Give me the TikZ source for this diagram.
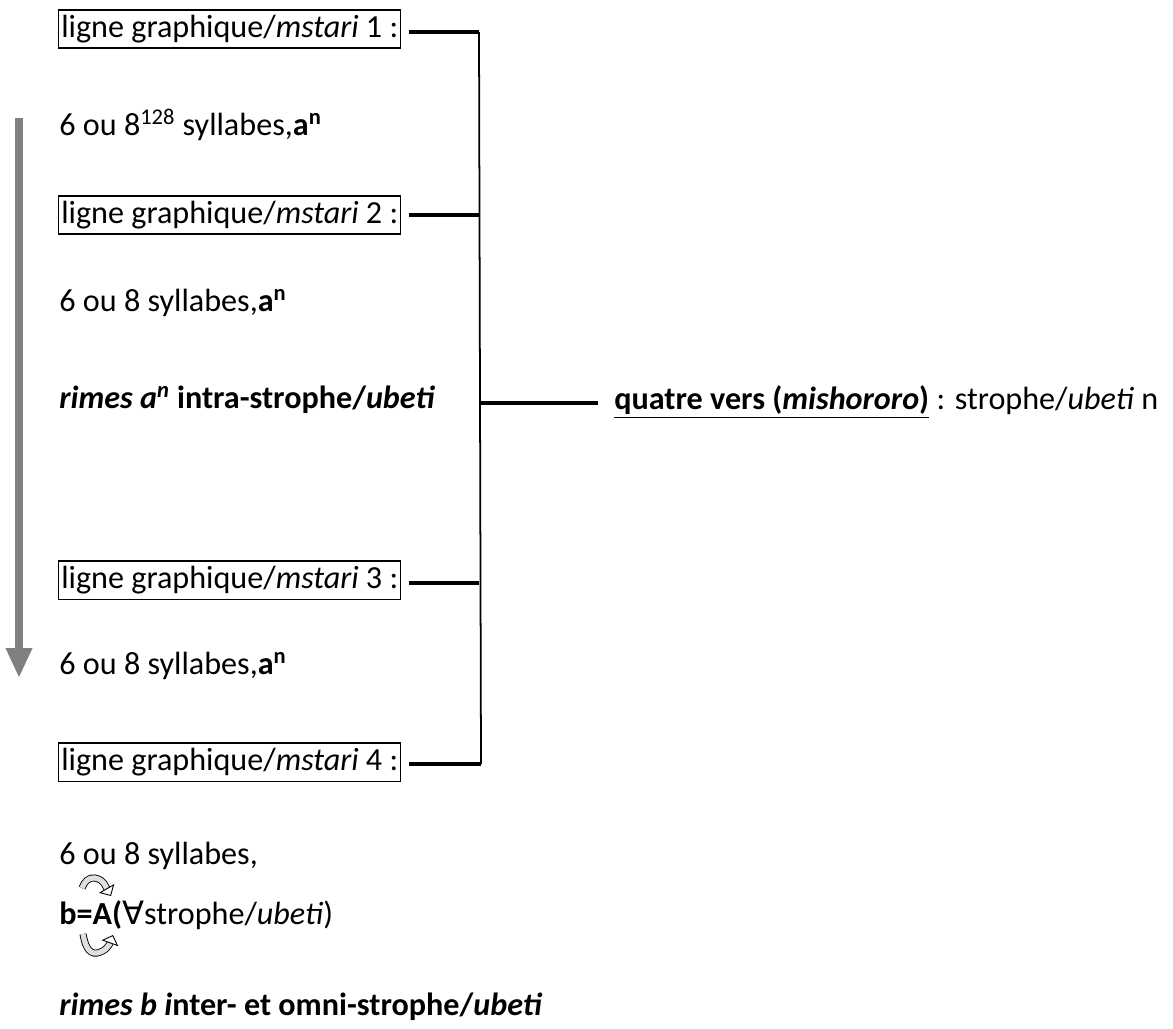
\documentclass[tikz,border=0pt]{standalone}
\usepackage{fontspec}
\setmainfont{Carlito}
\newfontfamily\symfont{DejaVu Sans}
\usetikzlibrary{arrows.meta,calc}

\tikzset{
 ligne/.style={draw, line width=0.8pt, inner xsep=1.5pt, inner ysep=3pt, anchor=west},
 txt/.style={anchor=west, inner sep=0pt},
 trait/.style={line width=2pt},
 axe/.style={line width=1pt},
 rond/.style={line width=0.5pt, double=gray!25, double distance=3pt, -{Triangle[open, width=10pt, length=5pt]}},
}

\begin{document}
\begin{tikzpicture}[x=0.02cm,y=-0.02cm,font=\fontsize{18.3}{22}\selectfont]
\useasboundingbox (0,0) rectangle (1173,1028);

\node[ligne] (L1) at (58,29) {ligne graphique/\textit{mstari} 1 :};
\node[ligne] (L2) at (58,215) {ligne graphique/\textit{mstari} 2 :};
\node[ligne] (L3) at (58,580) {ligne graphique/\textit{mstari} 3 :};
\node[ligne] (L4) at (58,762) {ligne graphique/\textit{mstari} 4 :};

\node[txt] (S1) at (59,125) {6 ou 8\textsuperscript{128} syllabes,\textbf{a\textsuperscript{n}}};
\node[txt] (S2) at (59,303) {6 ou 8 syllabes,\textbf{a\textsuperscript{n}}};
\node[txt] (R1) at (59,400) {\textbf{\textit{rimes a\textsuperscript{n}} intra-strophe/\textit{ubeti}}};
\node[txt] (S3) at (59,666) {6 ou 8 syllabes,\textbf{a\textsuperscript{n}}};
\node[txt] (S4) at (59,856) {6 ou 8 syllabes,};
\node[txt] (B) at (59,915) {\textbf{b=A(}{\symfont ∀}strophe/\textit{ubeti})};
\node[txt] (R2) at (59,1007) {\textbf{\textit{rimes b i}nter- et omni-strophe/\textit{ubeti}}};

\node[txt] (Q) at (614,402) {\underline{\textbf{quatre vers (\textit{mishororo})}} : strophe/\textit{ubeti} n};

% accolade
\coordinate (V1) at (479,32);
\coordinate (V4) at (481,764);
\coordinate (M) at (598,403);
\draw[trait] ($(L1.east)+(8,3)$) -- (V1);
\draw[trait] ($(L2.east)+(8,0)$) -- (L2.east -| V1);
\draw[trait] ($(L3.east)+(8,3)$) -- ($(L3.east -| V1)+(0,3)$);
\draw[trait] ($(L4.east)+(8,2)$) -- (V4);
\draw[axe] (V1) -- (V4);
\draw[trait] (M -| V1) -- (M);

% fleche grise
\coordinate (A1) at (19,118);
\coordinate (A2) at (19,678);
\draw[line width=4.5pt, gray, -{Triangle[width=14pt, length=17pt]}] (A1) -- (A2);

% fleches courbes
\draw[rond] (82,888) to[out=70,in=170] (95,878) to[out=-10,in=120] (111,896);
\draw[rond] (83,934) to[out=-80,in=-170] (97,953) to[out=10,in=-110] (113,935);
\end{tikzpicture}
\end{document}
